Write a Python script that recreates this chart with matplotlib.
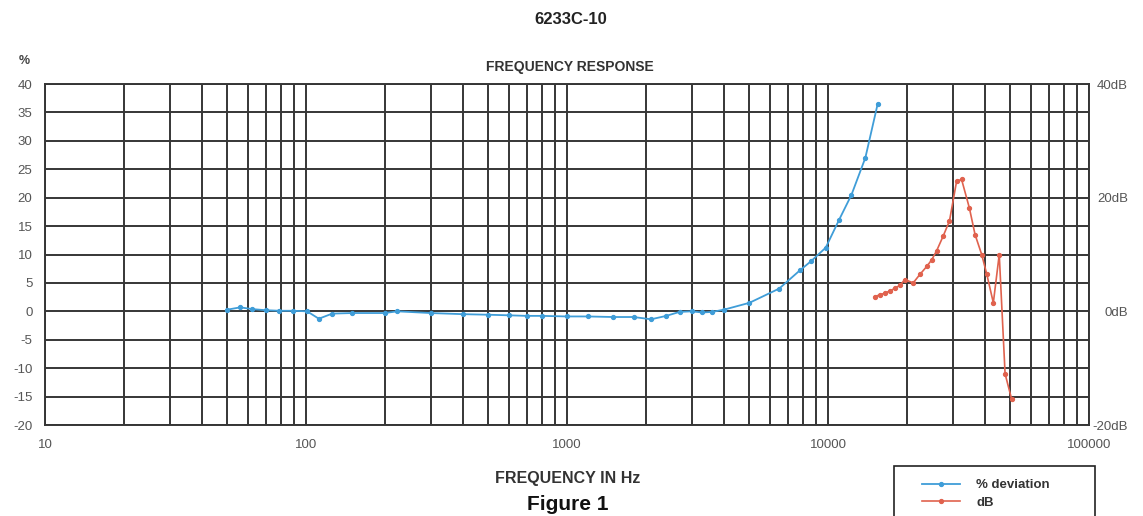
import matplotlib
matplotlib.use("Agg")
import matplotlib.pyplot as plt
from matplotlib.ticker import FixedLocator, NullFormatter, LogLocator
from matplotlib.lines import Line2D
from matplotlib.patches import Rectangle

plt.rcParams["font.family"] = ["Liberation Sans", "DejaVu Sans"]

# ---- data ----
dev_freq = [50, 56, 62, 70, 79, 89, 101, 112, 126, 150, 200, 224, 300, 400, 500,
            600, 700, 800, 1000, 1200, 1500, 1800, 2100, 2400, 2700, 3000, 3300,
            3600, 4000, 5000, 6500, 7800, 8600, 9800, 11000, 12300, 13900, 15500]
dev_pct = [0.3, 0.7, 0.4, 0.2, 0.1, 0.1, 0.0, -1.3, -0.4, -0.3, -0.3, 0.0, -0.3,
           -0.5, -0.6, -0.7, -0.8, -0.8, -0.9, -0.9, -1.0, -1.0, -1.4, -0.8, -0.1,
           0.0, -0.2, -0.1, 0.3, 1.5, 4.0, 7.2, 8.8, 11.2, 16.0, 20.5, 27.0, 36.5]

db_freq = [15100, 15800, 16500, 17300, 18100, 18900, 19700, 21200, 22500, 23900,
           25000, 26100, 27600, 29200, 31100, 32500, 34800, 36600, 38800, 40600,
           43000, 45300, 47700, 50500]
db_val = [2.6, 2.9, 3.2, 3.6, 4.1, 4.6, 5.6, 5.0, 6.5, 7.9, 9.1, 10.7, 13.2, 15.9,
          22.9, 23.2, 18.2, 13.5, 10.0, 6.5, 1.5, 10.0, -11.0, -15.4]

x_major = [10, 100, 1000, 10000, 100000]
x_labels = ["10", "100", "1000", "10000", "100000"]
y_left_ticks = list(range(-20, 41, 5))
y_right_ticks = [-20, 0, 20, 40]
y_right_labels = ["-20dB", "0dB", "20dB", "40dB"]

BLUE = "#3f9dd8"
RED = "#e0624e"
GRID = "#363636"
LABEL = "#555555"

W, H = 1143, 516
fig = plt.figure(figsize=(W / 100, H / 100), dpi=100)
L, R, T, B = 45, 1089, 84, 425
ax = fig.add_axes([L / W, 1 - B / H, (R - L) / W, (B - T) / H])

ax.set_xscale("log")
ax.set_xlim(10, 100000)
ax.set_ylim(-20, 40)
ax.xaxis.set_major_locator(FixedLocator(x_major))
ax.set_xticklabels(x_labels)
ax.xaxis.set_minor_locator(LogLocator(base=10, subs=range(2, 10)))
ax.xaxis.set_minor_formatter(NullFormatter())
ax.set_yticks(y_left_ticks)
ax.set_yticklabels([str(v) for v in y_left_ticks])
ax.grid(True, which="major", axis="both", color=GRID, linewidth=1.4)
ax.grid(True, which="minor", axis="x", color=GRID, linewidth=1.4)
ax.set_axisbelow(True)
ax.tick_params(which="both", length=0)
ax.tick_params(axis="y", labelsize=9.5, labelcolor=LABEL, pad=9)
ax.tick_params(axis="x", labelsize=9.5, labelcolor=LABEL, pad=10)
for s in ax.spines.values():
    s.set_color(GRID)
    s.set_linewidth(1.4)

ax.plot(dev_freq, dev_pct, color=BLUE, linewidth=1.3, marker="o", markersize=2.8,
        zorder=3, label="% deviation")

ax2 = ax.twinx()
ax2.set_ylim(-20, 40)
ax2.set_yticks(y_right_ticks)
ax2.set_yticklabels(y_right_labels)
ax2.tick_params(length=0, labelsize=9.5, labelcolor=LABEL, pad=28)
for lab in ax2.get_yticklabels():
    lab.set_horizontalalignment("right")
for s in ax2.spines.values():
    s.set_visible(False)
ax2.plot(db_freq, db_val, color=RED, linewidth=1.2, marker="o", markersize=2.8,
         zorder=3, label="dB")

fig.text(571 / W, 1 - 20 / H, "6233C-10", ha="center", va="center",
         fontsize=12, fontweight="bold", color="#222222")
fig.text(570 / W, 1 - 67 / H, "FREQUENCY RESPONSE", ha="center", va="center",
         fontsize=10, fontweight="bold", color="#333333")
fig.text(24 / W, 1 - 61 / H, "%", ha="center", va="center",
         fontsize=9, fontweight="bold", color="#444444")
fig.text(568 / W, 1 - 479 / H, "FREQUENCY IN Hz", ha="center", va="center",
         fontsize=11.5, fontweight="bold", color="#333333")
fig.text(568 / W, 1 - 510 / H, "Figure 1", ha="center", va="baseline",
         fontsize=15, fontweight="bold", color="#111111")

# legend box (extends past the bottom edge like the reference)
fig.add_artist(Rectangle((894 / W, 1 - 540 / H), 201 / W, 74 / H,
                         transform=fig.transFigure, fill=False,
                         edgecolor="#222222", linewidth=1.2))
handles = [Line2D([], [], color=BLUE, linewidth=1.3, marker="o", markersize=2.8),
           Line2D([], [], color=RED, linewidth=1.2, marker="o", markersize=2.8)]
leg = fig.legend(handles, ["% deviation", "dB"], loc="upper left",
                 bbox_to_anchor=(922 / W, 1 - 479 / H), frameon=False,
                 fontsize=9.5, handlelength=2.9, borderpad=0, labelspacing=0.4,
                 handletextpad=1.2, borderaxespad=0)
for t in leg.get_texts():
    t.set_fontweight("bold")
    t.set_color("#333333")

fig.savefig("out.png", dpi=100)
